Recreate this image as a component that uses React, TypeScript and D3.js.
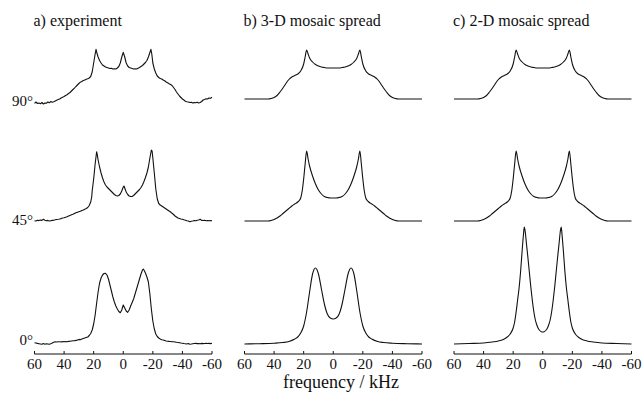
import React from "react";
import * as d3 from "d3";

// ---------- data ----------
const panelTitles = ["a) experiment", "b) 3-D mosaic spread", "c) 2-D mosaic spread"];
const rowLabels = ["90°", "45°", "0°"];
const xTicks = [60, 40, 20, 0, -20, -40, -60];
const xLabel = "frequency / kHz";

type Pt = [number, number];

// experiment, 90°
const exp90: Pt[] = [
  [60, -4.3], [59, -3], [58, -4.5], [57, -4], [56, -4.8], [55, -3.5], [54, -5], [53, -4], [52, -4.2], [51, -3],
  [50, -3.8], [49, -2.5], [48, -3.2], [47, -2.7], [46, -2], [45, -1.2], [44, -0.6], [43, 0], [42, 1], [41, 1.8],
  [40, 2.5], [39, 3.5], [38, 4.3], [37, 5.5], [36, 6.5], [35, 8], [34, 9.5], [33, 10.8], [32, 12.5], [31, 14],
  [30, 15.5], [29, 16.8], [28, 17.5], [27, 18.5], [26, 19], [25, 19.8], [24, 20.2], [23, 21], [22, 22.5], [21, 27],
  [20, 36], [19, 45], [18.4, 49.7], [18, 47], [17, 42], [16, 38.5], [15, 36], [14, 34], [13, 33], [12, 32],
  [11, 31.5], [10, 31], [9, 30.5], [8, 30.8], [7, 30], [6, 30.2], [5, 30], [4, 31], [3, 32.5], [2, 36],
  [1, 42], [0, 46.7], [-1, 42], [-2, 36], [-3, 33], [-4, 31.5], [-5, 31], [-6, 30.5], [-7, 30], [-8, 30.2],
  [-9, 30], [-10, 30.8], [-11, 31.5], [-12, 32.5], [-13, 33.5], [-14, 35], [-15, 36.5], [-16, 38.5], [-17, 42], [-18, 46.5],
  [-18.7, 49.7], [-19.3, 45], [-20, 36], [-21, 30], [-22, 26], [-23, 23], [-24, 21.5], [-25, 20.5], [-26, 20], [-27, 19],
  [-28, 18.2], [-29, 17], [-30, 16.2], [-31, 15.3], [-32, 14.5], [-33, 13.5], [-34, 11.5], [-35, 9.5], [-36, 7], [-37, 5],
  [-38, 3], [-39, 1.5], [-40, 0], [-41, -1], [-42, -2.3], [-43, -2.7], [-44, -3], [-45, -3.5], [-46, -3.2], [-47, -4],
  [-48, -3.6], [-49, -3.8], [-50, -3.3], [-51, -4], [-52, -3.5], [-53, -2.5], [-54, -1], [-55, -0.5], [-56, 0.3], [-57, 0],
  [-58, 1], [-59, 0.8], [-60, 1.7],
];

// experiment, 45°
const exp45: Pt[] = [
  [60, 0.3], [59, 0], [58, 0.8], [57, 0.4], [56, 1], [55, 0.6], [54, 1.7], [53, 0.8], [52, 0.3], [51, 0.6],
  [50, 0], [49, 0.3], [48, 0.6], [47, 0.8], [46, 1.2], [45, 1.5], [44, 1.7], [43, 2], [42, 2.4], [41, 3],
  [40, 3.3], [39, 3.8], [38, 4.3], [37, 5], [36, 5.6], [35, 6.2], [34, 6.7], [33, 7.5], [32, 8.2], [31, 8.8],
  [30, 9.3], [29, 9.8], [28, 10.5], [27, 11], [26, 11.8], [25, 12.5], [24, 13.5], [23, 15.5], [22, 19], [21.3, 24.3],
  [21, 30], [20, 42], [19, 57], [18, 69.3], [17.5, 66], [17, 61], [16, 54], [15, 48], [14, 43], [13, 39],
  [12, 36], [11, 34], [10, 32.5], [9, 31], [8, 29.5], [7, 28], [6, 26.5], [5, 25.5], [4, 25], [3, 25.5],
  [2, 27], [1, 30], [0, 34], [-0.5, 35], [-1, 33], [-2, 29], [-3, 26.5], [-4, 25], [-5, 24.5], [-6, 24.5],
  [-7, 25.5], [-8, 27], [-9, 28.5], [-10, 30], [-11, 31.5], [-12, 33.5], [-13, 36], [-14, 39.5], [-15, 43.5], [-16, 48],
  [-17, 54], [-18, 63], [-19, 71], [-19.5, 70], [-20, 63], [-21, 48], [-22, 32], [-23, 22], [-24, 17.5], [-25, 16],
  [-26, 15], [-27, 14], [-28, 13], [-29, 12], [-30, 11], [-31, 10], [-32, 9], [-33, 7.7], [-34, 6.5], [-35, 5],
  [-36, 4], [-37, 3], [-38, 2.5], [-39, 2], [-40, 1.8], [-41, 1.2], [-42, 0.8], [-43, 0.3], [-44, 0], [-45, -0.7],
  [-46, -0.3], [-47, 0], [-48, 0.5], [-49, 0.2], [-50, 0.8], [-51, 1], [-52, 1.7], [-53, 0.6], [-54, 0.5], [-55, 0.8],
  [-56, 0.3], [-57, 0.5], [-58, 0.2], [-59, 0.4], [-60, 0.3],
];

// experiment, 0°
const exp0: Pt[] = [
  [60, 1.3], [59, 1], [58, 0.6], [57, 0.3], [56, 0], [55, -0.3], [54, 0.4], [53, -0.2], [52, 0.2], [51, 0],
  [50, -0.3], [49, 0.3], [48, 1], [47, 1.8], [46, 2.3], [45, 2], [44, 2.2], [43, 2.3], [42, 2], [41, 2.4],
  [40, 2.2], [39, 2.5], [38, 2.3], [37, 2.6], [36, 2.8], [35, 3], [34, 3.2], [33, 3.3], [32, 3.6], [31, 3.9],
  [30, 4.6], [29, 4.2], [28, 5], [27, 5.5], [26, 6], [25, 6.5], [24, 7], [23, 8.5], [22, 10.5], [21, 14],
  [20, 20], [19, 29], [18, 40.7], [17, 52], [16, 61], [15, 66], [14, 69], [13, 70.5], [12, 70.7], [11, 69],
  [10, 65], [9, 59], [8, 53], [7, 47], [6, 42], [5, 38], [4, 35], [3, 32.5], [2, 31.3], [1, 34],
  [0, 39], [-1, 36], [-2, 33], [-3, 31.7], [-4, 34], [-5, 38], [-6, 41.5], [-7, 45], [-8, 50], [-9, 55],
  [-10, 60], [-11, 65], [-12, 70], [-13, 74], [-13.5, 75], [-14, 74], [-15, 71], [-16, 67], [-17, 62], [-18, 50],
  [-19, 35], [-20, 23], [-21, 15], [-22, 10], [-23, 7.5], [-24, 6], [-25, 5], [-26, 4.3], [-27, 4], [-28, 3.5],
  [-29, 3], [-30, 2.8], [-31, 2.6], [-32, 2.5], [-33, 2.3], [-34, 2.2], [-35, 2], [-36, 1.7], [-37, 1.5], [-38, 1.3],
  [-39, 1], [-40, 0.8], [-41, 0.5], [-42, 0.3], [-43, 0], [-44, 0.5], [-45, -0.2], [-46, 0], [-47, 0.3], [-48, 0.5],
  [-49, 0.6], [-50, 0.4], [-51, 0.5], [-52, 0.3], [-53, 0.6], [-54, 0.4], [-55, 0.5], [-56, 0.7], [-57, 0.5], [-58, 0.6],
  [-59, 0.4], [-60, 0.7],
];

// simulation, 90° (3-D and 2-D mosaic spread alike)
const sim90: Pt[] = [
  [60, 0], [50, 0], [44, 0], [42, 0.5], [40, 1.5], [38, 3.5], [36, 7], [34, 11], [32, 15.5], [30, 19.5],
  [28, 22], [26, 23.5], [24, 25], [22, 28], [20, 35], [19, 42], [18, 49], [17, 45], [16, 41], [14, 37],
  [12, 34.5], [10, 33], [8, 32], [6, 31.5], [4, 31], [0, 31],
  [-4, 31], [-6, 31.5], [-8, 32], [-10, 33], [-12, 34.5], [-14, 37], [-16, 41], [-17, 45], [-18, 49], [-19, 42],
  [-20, 35], [-22, 28], [-24, 25], [-26, 23.5], [-28, 22], [-30, 19.5], [-32, 15.5], [-34, 11], [-36, 7], [-38, 3.5],
  [-40, 1.5], [-42, 0.5], [-44, 0], [-50, 0], [-60, 0],
];

// simulation, 45°
const sim45: Pt[] = [
  [60, 0], [50, 0], [44, 0], [42, 0.5], [40, 1.5], [38, 3], [36, 5], [34, 7.5], [32, 10], [30, 12.5],
  [28, 15], [26, 17], [24, 19], [23, 20.5], [22, 23], [21, 30], [20, 42], [19, 57], [18, 70], [17, 62],
  [16, 55], [14, 45], [12, 37], [10, 31], [8, 27], [6, 24.5], [4, 23.5], [2, 23], [0, 23],
  [-2, 23], [-4, 23.5], [-6, 24.5], [-8, 27], [-10, 31], [-12, 37], [-14, 45], [-16, 55], [-17, 62], [-18, 70],
  [-19, 57], [-20, 42], [-21, 30], [-22, 23], [-23, 20.5], [-24, 19], [-26, 17], [-28, 15], [-30, 12.5], [-32, 10],
  [-34, 7.5], [-36, 5], [-38, 3], [-40, 1.5], [-42, 0.5], [-44, 0], [-50, 0], [-60, 0],
];

// simulation 3-D, 0°
const sim3d0: Pt[] = [
  [60, 0], [50, 0.3], [40, 0.8], [34, 1.5], [30, 2.5], [26, 5], [24, 7], [22, 11], [20, 18], [18, 32],
  [16, 52], [14, 70], [12, 76], [10, 70], [8, 55], [6, 40], [4, 30], [2, 26], [0, 25],
  [-2, 26], [-4, 30], [-6, 40], [-8, 55], [-10, 70], [-12, 76], [-14, 70], [-16, 52], [-18, 32], [-20, 18],
  [-22, 11], [-24, 7], [-26, 5], [-30, 2.5], [-34, 1.5], [-40, 0.8], [-50, 0.3], [-60, 0],
];

// simulation 2-D, 0°
const sim2d0: Pt[] = [
  [60, 0], [50, 0.5], [40, 1], [34, 2], [30, 3], [26, 5], [24, 7], [22, 10], [20, 16], [19, 22],
  [18, 32], [17, 44], [16, 56], [15, 72], [14, 92], [13, 110], [12.5, 117], [12, 114], [11, 100], [10, 86],
  [9, 71], [8, 56], [7, 43], [6, 32], [5, 24], [4, 19], [3, 15.5], [2, 13.5], [1, 12.3], [0, 12],
  [-1, 12.3], [-2, 13.5], [-3, 15.5], [-4, 19], [-5, 24], [-6, 32], [-7, 43], [-8, 56], [-9, 71], [-10, 86],
  [-11, 100], [-12, 114], [-12.5, 117], [-13, 110], [-14, 92], [-15, 72], [-16, 56], [-17, 44], [-18, 32], [-19, 22],
  [-20, 16], [-22, 10], [-24, 7], [-26, 5], [-30, 3], [-34, 2], [-40, 1], [-50, 0.5], [-60, 0],
];

// [panel][row]
const spectra: Pt[][][] = [
  [exp90, exp45, exp0],
  [sim90, sim45, sim3d0],
  [sim90, sim45, sim2d0],
];
const smooth = [false, true, true];

// ---------- layout ----------
const W = 644;
const H = 402;
const panelLeft = [34.5, 244.5, 454];
const panelWidth = 177.5;
const rowBase = [99, 221, 344];
const rowLabelY = [106, 225, 345];
const axisY = 354;
const FONT = "'Liberation Serif', 'Times New Roman', serif";

export default function App() {
  const yScale = d3.scaleLinear().domain([0, 100]).range([0, -100]);
  return (
    <svg width={W} height={H} style={{ position: "absolute", left: 0, top: 0, background: "#fff" }}
      fontFamily={FONT}>
      <rect x={0} y={0} width={W} height={H} fill="#fff" />
      {panelTitles.map((title, p) => {
        const x = d3.scaleLinear().domain([60, -60]).range([panelLeft[p], panelLeft[p] + panelWidth]);
        return (
          <g key={p}>
            <text x={panelLeft[p] - 1} y={26} fontSize={16} fill="#111">{title}</text>
            {spectra[p].map((data, r) => {
              const line = d3.line<Pt>()
                .x((d) => x(d[0]))
                .y((d) => rowBase[r] + yScale(d[1]))
                .curve(smooth[p] ? d3.curveMonotoneX : d3.curveLinear);
              return (
                <path key={r} d={line(data) ?? ""} fill="none" stroke="#111"
                  strokeWidth={1.1} strokeLinejoin="round" />
              );
            })}
            <line x1={x(60)} x2={x(-60)} y1={axisY} y2={axisY} stroke="#111" strokeWidth={1} />
            {xTicks.map((t) => (
              <g key={t}>
                <line x1={x(t)} x2={x(t)} y1={axisY} y2={axisY - 3} stroke="#111" strokeWidth={1} />
                <text x={x(t)} y={369} fontSize={15} textAnchor="middle" fill="#111">
                  {t < 0 ? `-${Math.abs(t)}` : `${t}`}
                </text>
              </g>
            ))}
          </g>
        );
      })}
      {rowLabels.map((lab, r) => (
        <text key={lab} x={33} y={rowLabelY[r]} fontSize={15} textAnchor="end" fill="#111">{lab}</text>
      ))}
      <text x={341} y={388} fontSize={18} textAnchor="middle" fill="#111">{xLabel}</text>
    </svg>
  );
}
